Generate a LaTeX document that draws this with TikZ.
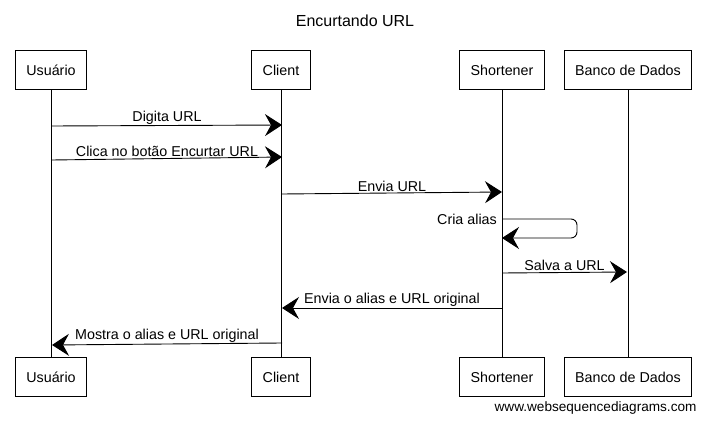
\documentclass[tikz,border=0pt]{standalone}
\usepackage{fontspec}
\setmainfont{Liberation Sans}
\usetikzlibrary{arrows.meta,positioning}

\begin{document}
\begin{tikzpicture}[x=1pt, y=-1pt,
    actor/.style={draw=black, fill=white, line width=0.8pt, minimum height=39pt, inner xsep=11pt, font=\fontsize{14.3}{16}\selectfont},
    life/.style={black, line width=0.8pt},
    msg/.style={black, line width=0.9pt, -{Stealth[length=17pt, width=22pt, inset=6pt]}},
    lbl/.style={font=\fontsize{14.3}{16}\selectfont, inner sep=1pt}]
    \useasboundingbox (0,0) rectangle (707,422);

    % Title
    \node[font=\fontsize{16}{18}\selectfont] (title) at (355,21) {Encurtando URL};

    % Participants - top
    \node[actor] (usrT) at (51,70) {Usuário};
    \node[actor] (cliT) at (281,70) {Client};
    \node[actor] (shoT) at (502,70) {Shortener};
    \node[actor] (bdT) at (628,70) {Banco de Dados};

    % Participants - bottom
    \node[actor] (usrB) at (51,377) {Usuário};
    \node[actor] (cliB) at (281,377) {Client};
    \node[actor] (shoB) at (502,377) {Shortener};
    \node[actor] (bdB) at (628,377) {Banco de Dados};

    % Lifelines
    \draw[life] (usrT) -- (usrB);
    \draw[life] (cliT) -- (cliB);
    \draw[life] (shoT) -- (shoB);
    \draw[life] (bdT) -- (bdB);

    % Points on the lifelines
    \coordinate (u1) at (52,126);
    \coordinate (c1) at (282,125);
    \coordinate (u2) at (52,160);
    \coordinate (c2) at (282,157);
    \coordinate (c3) at (282,194);
    \coordinate (s3) at (502,192);
    \coordinate (s4) at (502,219);
    \coordinate (s4b) at (502,238);
    \coordinate (s5) at (502,273);
    \coordinate (b5) at (627,272);
    \coordinate (s6) at (502,308);
    \coordinate (c6) at (282,308);
    \coordinate (c7) at (282,343);
    \coordinate (u7) at (52,345);

    % Messages
    \draw[msg] (u1) -- node[lbl, above] {Digita URL} (c1);
    \draw[msg] (u2) -- node[lbl, above] {Clica no botão Encurtar URL} (c2);
    \draw[msg] (c3) -- node[lbl, above] {Envia URL} (s3);
    \draw[msg, rounded corners=6pt] (s4) -- (577,219) -- (577,238) -- (s4b);
    \node[lbl, left=4pt of s4] (cria) {Cria alias};
    \draw[msg] (s5) -- node[lbl, above] {Salva a URL} (b5);
    \draw[msg] (s6) -- node[lbl, above] {Envia o alias e URL original} (c6);
    \draw[msg] (c7) -- node[lbl, above] {Mostra o alias e URL original} (u7);

    % Footer
    \node[font=\fontsize{13.6}{15}\selectfont, anchor=east] (site) at (700,408) {www.websequencediagrams.com};
\end{tikzpicture}
\end{document}
